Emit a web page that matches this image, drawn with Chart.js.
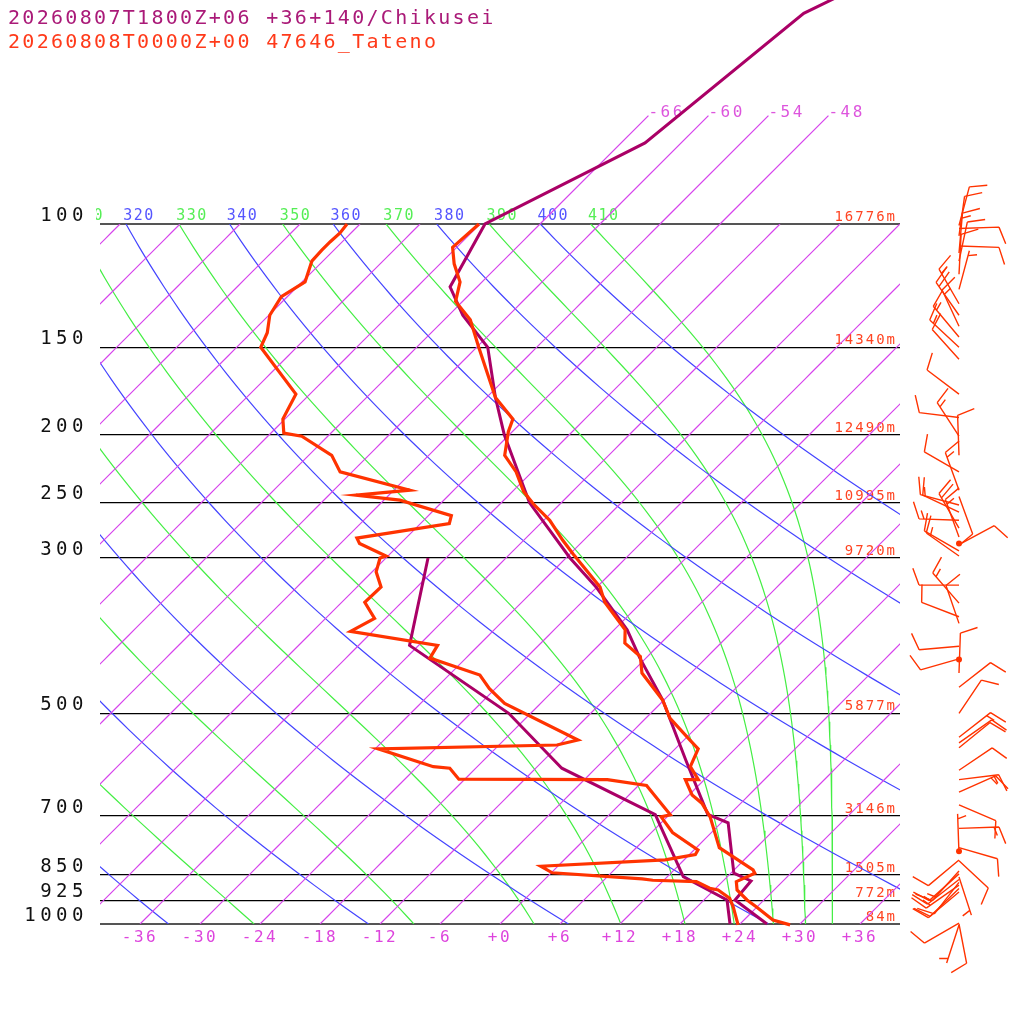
<!DOCTYPE html>
<html>
<head>
<meta charset="utf-8">
<title>Skew-T 47646 Tateno</title>
<script src="https://cdn.jsdelivr.net/npm/chart.js@4.4.1/dist/chart.umd.min.js"></script>
<style>
  html, body { margin: 0; padding: 0; background: #ffffff; }
  #wrap { width: 1024px; height: 1024px; position: relative; }
</style>
</head>
<body>
<div id="wrap"><canvas id="skewt"></canvas></div>
<script>
// --- diagram levels and labels ---
const pressureLevels = [1000, 925, 850, 700, 500, 300, 250, 200, 150, 100];
const levelHeights = ['84m', '772m', '1505m', '3146m', '5877m', '9720m', '10995m', '12490m', '14340m', '16776m'];
const tempTicks = [-36, -30, -24, -18, -12, -6, 0, 6, 12, 18, 24, 30, 36];
const topIsotherms = [-66, -60, -54, -48];
const dryThetas = [240, 260, 280, 300, 320, 340, 360, 380, 400];
const moistThetas = [250, 270, 290, 310, 330, 350, 370, 390, 410];

// --- 47646 Tateno observation (hPa, degC) ---
const obsTempP = [1003, 987, 945, 924, 894, 870, 846, 837, 778, 703, 672, 654, 622, 622, 596, 562, 546, 508, 479, 438, 415, 397, 380, 347, 330, 296, 283, 265, 251, 241, 226, 214, 198, 190, 177, 150, 137, 129, 121, 114, 108, 100];
const obsTempT = [29.1, 26.9, 23.9, 22.3, 20.3, 19.4, 20.4, 19.9, 14.3, 10.3, 8.1, 6.3, 4.1, 5.4, 3.3, 2.3, 0.6, -3.6, -6.1, -10.9, -12.7, -15.6, -16.9, -21.7, -23.7, -29.7, -32.1, -35.4, -38.7, -40.9, -43.6, -46.4, -48.4, -49.2, -53.1, -59.8, -63.4, -66.7, -68.2, -70.6, -72.4, -72.1];
const obsDewP = [1003, 945, 919, 894, 889, 870, 866, 862, 845, 827, 810, 796, 784, 740, 703, 698, 634, 622, 621, 599, 596, 562, 555, 546, 484, 461, 441, 417, 400, 382, 366, 347, 330, 314, 300, 298, 286, 281, 268, 261, 248, 244, 240, 226, 214, 201, 199, 190, 175, 150, 143, 135, 127, 121, 113, 109, 106, 103, 100];
const obsDewT = [23.9, 21.6, 20.4, 18.4, 17.4, 15.4, 10.9, 9.7, 0.1, -1.7, 10.1, 12.6, 12.4, 8.1, 5.4, 6.1, 0.8, -3.7, -18.6, -20.6, -22.4, -29.7, -12.2, -10.6, -21.6, -24.6, -26.9, -33.6, -34.1, -44.2, -43.1, -45.7, -45.6, -47.6, -48.6, -48.2, -52.1, -52.9, -45.1, -45.7, -52.4, -57.3, -52.4, -61.2, -63.7, -68.6, -70.7, -72.2, -73.4, -81.6, -82.4, -83.9, -84.6, -83.7, -85.1, -85.2, -85.2, -85.1, -85.3];

// --- Chikusei forecast (hPa, degC) ---
const fcstTempP = [1000, 924, 868, 846, 717, 697, 582, 479, 417, 380, 330, 300, 250, 200, 177, 150, 135, 123, 100, 76.6, 50, 40];
const fcstTempT = [26.7, 21.1, 20.8, 18.3, 12.7, 9.8, 2.1, -6.1, -12.6, -16.7, -24.1, -29.6, -39.2, -48.5, -53.1, -58.9, -64.6, -68.7, -71.5, -63.6, -60.7, -53.5];
const fcstDewP = [1000, 924, 856, 698, 599, 500, 400, 300];
const fcstDewT = [23.0, 20.3, 13.6, 4.6, -9.4, -20.2, -36.9, -43.8];

// --- Tateno winds (hPa, deg, kt) ---
const windP = [100.5, 101.5, 104, 107.5, 110, 113, 118, 124, 130, 135, 140, 145, 150, 156, 175, 189, 201, 214, 226,
  240, 245, 252, 258, 265, 272, 280, 286, 287, 293, 298, 328, 348, 364, 372, 401, 418, 419, 438, 459, 500,
  541, 551, 560, 603, 622, 648, 676, 730, 778, 787, 794, 810, 812, 840, 848, 857, 864, 872, 880, 890, 900, 997, 1000, 1003];
const windDir = [15, 88, 8, 92, 5, 12, 3, 15, 330, 325, 335, 320, 313, 318, 307, 277, 327, 358, 300,
  340, 160, 285, 295, 272, 330, 340, 0, 62, 300, 305, 270, 319, 291, 341, 265, 254, 0, 2, 52, 34,
  52, 55, 51, 56, 83, 66, 113, 88, 106, 0, 358, 230, 133, 222, 228, 162, 232, 218, 235, 226, 230, 240, 169, 198];
const windSpd = [10, 10, 10, 10, 15, 10, 10, 5, 15, 20, 15, 15, 15, 10, 10, 10, 15, 10, 10,
  15, 10, 15, 10, 15, 20, 15, 0, 10, 10, 15, 10, 15, 10, 10, 10, 10, 0, 10, 10, 10,
  15, 10, 10, 10, 15, 15, 10, 15, 10, 0, 5, 10, 10, 15, 10, 5, 15, 10, 15, 10, 10, 10, 10, 5];

const MONO = '"DejaVu Sans Mono", "Liberation Mono", monospace';
const RED = 'rgb(255, 51, 0)';
const PURPLE = 'rgb(170, 0, 102)';
const ISO_COLOR = 'rgb(214, 68, 236)';
const DRY_COLOR = 'rgb(68, 68, 255)';
const MOIST_COLOR = 'rgb(68, 238, 68)';

// skewed x coordinate: isotherms lean 45 degrees
const SKEW = 70;
function skewX(t, p) { return t + SKEW * Math.log10(1000 / p); }

function toPoints(ps, ts) { return ps.map((p, i) => ({ x: skewX(ts[i], p), y: p })); }

// pressures for the background curves, 100 -> 1000 hPa
const logSteps = [];
for (let i = 0; i <= 90; i++) logSteps.push(100 * Math.pow(10, i / 90));

function dryTemp(theta, p) { return theta * Math.pow(p / 1000, 0.2857) - 273.15; }

function satThetaE(tk, p) {
    const tc = tk - 273.15;
    const e = 6.112 * Math.exp(17.67 * tc / (tc + 243.5));
    if (e > 0.5 * p) return 1e6;
    const r = 622 * e / (p - e);
    return tk * Math.pow(1000 / p, 0.2854 * (1 - 0.00028 * r)) *
        Math.exp((3.376 / tk - 0.00254) * r * (1 + 0.00081 * r));
}
function moistTemp(thetaE, p) {
    let lo = 150, hi = 340;
    for (let i = 0; i < 48; i++) {
        const mid = (lo + hi) / 2;
        if (satThetaE(mid, p) > thetaE) hi = mid; else lo = mid;
    }
    return (lo + hi) / 2 - 273.15;
}

function bgLine(points, color) {
    return {
        data: points, showLine: true, borderColor: color, backgroundColor: color,
        borderWidth: 1.2, pointRadius: 0, tension: 0, order: 5
    };
}

const datasets = [];
datasets.push({ label: 'Tateno T', data: toPoints(obsTempP, obsTempT), showLine: true, borderColor: RED, backgroundColor: RED, borderWidth: 3.2, pointRadius: 0, clip: false, order: 0 });
datasets.push({ label: 'Tateno Td', data: toPoints(obsDewP, obsDewT), showLine: true, borderColor: RED, backgroundColor: RED, borderWidth: 3.2, pointRadius: 0, clip: false, order: 0 });
datasets.push({ label: 'Chikusei T', data: toPoints(fcstTempP, fcstTempT), showLine: true, borderColor: PURPLE, backgroundColor: PURPLE, borderWidth: 3, pointRadius: 0, clip: false, order: 1 });
datasets.push({ label: 'Chikusei Td', data: toPoints(fcstDewP, fcstDewT), showLine: true, borderColor: PURPLE, backgroundColor: PURPLE, borderWidth: 3, pointRadius: 0, clip: false, order: 1 });

for (let t = -108; t <= 36; t += 6) {
    datasets.push(bgLine(logSteps.map(p => ({ x: skewX(t, p), y: p })), ISO_COLOR));
}
topIsotherms.forEach(t => {
    const ds = bgLine([70, 100].map(p => ({ x: skewX(t, p), y: p })), ISO_COLOR);
    ds.clip = false;
    datasets.push(ds);
});
dryThetas.forEach(th => {
    datasets.push(bgLine(logSteps.map(p => ({ x: skewX(dryTemp(th, p), p), y: p })), DRY_COLOR));
});
moistThetas.forEach(th => {
    datasets.push(bgLine(logSteps.map(p => ({ x: skewX(moistTemp(th, p), p), y: p })), MOIST_COLOR));
});

// axis classes that draw their tick labels letter-spaced like the original plot
function spacedScale(base, id, spacing) {
    class Spaced extends base {
        drawLabels(area) {
            this.ctx.save();
            this.ctx.letterSpacing = spacing;
            super.drawLabels(area);
            this.ctx.restore();
        }
    }
    Spaced.id = id;
    Spaced.defaults = base.defaults;
    return Spaced;
}
Chart.register(
    spacedScale(Chart.registry.getScale('linear'), 'spacedLinear', '2.5px'),
    spacedScale(Chart.registry.getScale('logarithmic'), 'spacedLog', '4.5px')
);

function drawBarb(ctx, x0, y0, dir, spd) {
    if (spd < 2.5) {
        ctx.beginPath();
        ctx.arc(x0, y0, 3, 0, Math.PI * 2);
        ctx.fill();
        return;
    }
    const a = dir * Math.PI / 180;
    const ux = Math.sin(a), uy = -Math.cos(a);
    const L = 40, full = 18, gap = 5, ang = 70 * Math.PI / 180;
    const bx = ux * Math.cos(ang) - uy * Math.sin(ang);
    const by = ux * Math.sin(ang) + uy * Math.cos(ang);
    ctx.beginPath();
    ctx.moveTo(x0, y0);
    ctx.lineTo(x0 + ux * L, y0 + uy * L);
    let s = Math.round(spd / 5) * 5;
    let pos = L;
    while (s >= 10) {
        const sx = x0 + ux * pos, sy = y0 + uy * pos;
        ctx.moveTo(sx, sy);
        ctx.lineTo(sx + bx * full, sy + by * full);
        pos -= gap;
        s -= 10;
    }
    if (s >= 5) {
        if (pos === L) pos -= gap;
        const sx = x0 + ux * pos, sy = y0 + uy * pos;
        ctx.moveTo(sx, sy);
        ctx.lineTo(sx + bx * full / 2, sy + by * full / 2);
    }
    ctx.stroke();
}

const skewDecor = {
    id: 'skewDecor',
    beforeDatasetsDraw(chart) {
        const { ctx } = chart;
        const xs = chart.scales.x, ys = chart.scales.y;
        ctx.save();
        ctx.textBaseline = 'alphabetic';

        // geopotential heights above each level line
        ctx.font = '14px ' + MONO;
        ctx.letterSpacing = '2px';
        ctx.fillStyle = '#ff4422';
        ctx.textAlign = 'right';
        pressureLevels.forEach((p, i) => {
            ctx.fillText(levelHeights[i], xs.right - 3, ys.getPixelForValue(p) - 3);
        });

        // adiabat labels along 100 hPa
        ctx.save();
        ctx.beginPath();
        ctx.rect(96, 190, xs.right - 96, 40);
        ctx.clip();
        ctx.font = '15px ' + MONO;
        ctx.letterSpacing = '1.5px';
        ctx.textAlign = 'center';
        const top = ys.getPixelForValue(100);
        dryThetas.forEach(th => {
            const px = xs.getPixelForValue(skewX(dryTemp(th, 100), 100));
            ctx.fillStyle = '#5555ff';
            ctx.fillText(String(th), px + 13, top - 4);
        });
        moistThetas.forEach(th => {
            const px = xs.getPixelForValue(skewX(moistTemp(th, 100), 100));
            ctx.fillStyle = '#55ee55';
            ctx.fillText(String(th), px + 13, top - 4);
        });
        ctx.restore();

        // isotherm labels at the top ends
        ctx.font = '16px ' + MONO;
        ctx.letterSpacing = '2.5px';
        ctx.fillStyle = '#dd55dd';
        ctx.textAlign = 'left';
        topIsotherms.forEach(t => {
            ctx.fillText(String(t), xs.getPixelForValue(skewX(t, 70)), ys.getPixelForValue(70) + 1);
        });
        ctx.restore();
    },
    afterDraw(chart) {
        const { ctx } = chart;
        const xs = chart.scales.x, ys = chart.scales.y;
        ctx.save();
        ctx.font = '20px ' + MONO;
        ctx.letterSpacing = '2.3px';
        ctx.textAlign = 'left';
        ctx.textBaseline = 'alphabetic';
        ctx.fillStyle = '#aa1a78';
        ctx.fillText('20260807T1800Z+06 +36+140/Chikusei', 8, 24);
        ctx.fillStyle = '#ff3a1a';
        ctx.fillText('20260808T0000Z+00 47646_Tateno', 8, 48);

        // wind barbs
        ctx.strokeStyle = RED;
        ctx.fillStyle = RED;
        ctx.lineWidth = 1.4;
        const bx = xs.right + 59;
        windP.forEach((p, i) => drawBarb(ctx, bx, ys.getPixelForValue(p), windDir[i], windSpd[i]));
        ctx.restore();
    }
};

new Chart(document.getElementById('skewt'), {
    type: 'scatter',
    data: { datasets },
    options: {
        responsive: true,
        maintainAspectRatio: false,
        devicePixelRatio: 1,
        animation: false,
        events: [],
        layout: { padding: { top: 224, right: 124, left: 0, bottom: 0 } },
        plugins: { legend: { display: false }, tooltip: { enabled: false } },
        scales: {
            x: {
                type: 'spacedLinear',
                min: -40,
                max: 40,
                afterBuildTicks: s => { s.ticks = tempTicks.map(v => ({ value: v })); },
                afterFit: s => { s.height = 100; },
                grid: { display: false, drawTicks: false },
                border: { display: false },
                ticks: {
                    color: '#dd44dd',
                    font: { family: MONO, size: 16 },
                    padding: 4,
                    maxRotation: 0,
                    autoSkip: false,
                    callback: v => (v >= 0 ? '+' : '') + v
                }
            },
            y: {
                type: 'spacedLog',
                min: 100,
                max: 1000,
                reverse: true,
                afterBuildTicks: s => { s.ticks = pressureLevels.map(v => ({ value: v })); },
                afterFit: s => { s.width = 100; },
                grid: {
                    drawTicks: false,
                    color: c => (c.tick && (c.tick.value === 100 || c.tick.value === 1000)) ? '#555555' : '#000000',
                    lineWidth: c => (c.tick && (c.tick.value === 100 || c.tick.value === 1000)) ? 2 : 1.2
                },
                border: { display: false },
                ticks: {
                    color: '#111111',
                    font: { family: MONO, size: 19 },
                    padding: 12,
                    labelOffset: -8,
                    autoSkip: false,
                    callback: v => String(v)
                }
            }
        }
    },
    plugins: [skewDecor]
});
</script>
</body>
</html>
